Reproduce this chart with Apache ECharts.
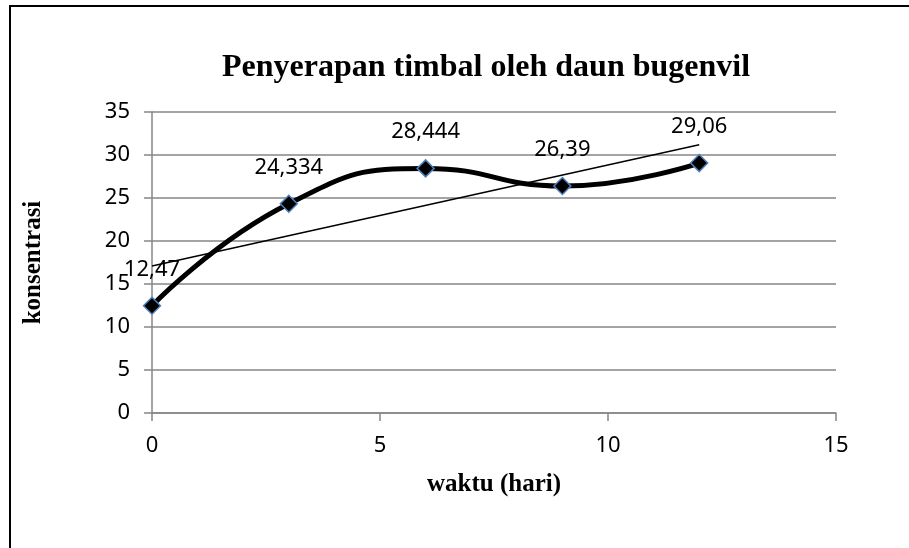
<!DOCTYPE html>
<html>
<head>
<meta charset="utf-8">
<script src="https://cdn.jsdelivr.net/npm/echarts@6/dist/echarts.min.js"></script>
<style>
html,body{margin:0;padding:0;background:#fff;}
#c{width:909px;height:548px;}
</style>
</head>
<body>
<div id="c"></div>
<script>
var xValues = [0, 3, 6, 9, 12];
var yValues = [12.47, 24.334, 28.444, 26.39, 29.06];
var labels = ['12,47', '24,334', '28,444', '26,39', '29,06'];
var trendX = [0, 12];
var trendY = [17.09, 31.19];
var titleText = 'Penyerapan timbal oleh daun bugenvil';
var xName = 'waktu (hari)';
var yName = 'konsentrasi';

var mainData = xValues.map(function (x, i) { return [x, yValues[i]]; });
var trendData = trendX.map(function (x, i) { return [x, trendY[i]]; });

var chart = echarts.init(document.getElementById('c'), null, {renderer: 'canvas'});
var serif = '"Liberation Serif", "DejaVu Serif", serif';
var sans = '"Noto Sans", "Liberation Sans", sans-serif';
chart.setOption({
  animation: false,
  backgroundColor: '#fff',
  graphic: [{
    type: 'rect',
    shape: {x: 10, y: 6, width: 1000, height: 1000},
    style: {fill: 'none', stroke: '#000', lineWidth: 2},
    silent: true
  }],
  title: {
    text: titleText,
    left: 481, top: 47, textAlign: 'center',
    textStyle: {fontFamily: serif, fontWeight: 'bold', fontSize: 32, color: '#000'}
  },
  grid: {left: 152, right: 73, top: 112, bottom: 135, containLabel: false},
  xAxis: {
    type: 'value', min: 0, max: 15, interval: 5,
    name: xName, nameLocation: 'middle', nameGap: 59,
    nameTextStyle: {fontFamily: serif, fontWeight: 'bold', fontSize: 25, color: '#000'},
    axisLine: {show: true, lineStyle: {color: '#868686', width: 1.5}},
    axisTick: {show: true, length: 8, lineStyle: {color: '#868686', width: 1.5}},
    axisLabel: {fontFamily: sans, fontSize: 22, color: '#000', margin: 22},
    splitLine: {show: false}
  },
  yAxis: {
    type: 'value', min: 0, max: 35, interval: 5,
    name: yName, nameLocation: 'middle', nameGap: 106, nameRotate: 90,
    nameTextStyle: {fontFamily: serif, fontWeight: 'bold', fontSize: 25, color: '#000'},
    axisLine: {show: true, lineStyle: {color: '#868686', width: 1.5}},
    axisTick: {show: true, length: 8, lineStyle: {color: '#868686', width: 1.5}},
    axisLabel: {fontFamily: sans, fontSize: 22, color: '#000', margin: 22},
    splitLine: {show: true, lineStyle: {color: '#868686', width: 1.5}}
  },
  series: [{
    type: 'line',
    data: trendData,
    showSymbol: false,
    symbol: 'none',
    lineStyle: {color: '#000', width: 1.5},
    z: 2
  }, {
    type: 'line',
    data: mainData,
    smooth: 0.5,
    symbol: 'diamond',
    symbolSize: 17,
    lineStyle: {color: '#000', width: 5},
    itemStyle: {color: '#000', borderColor: '#4f81bd', borderWidth: 1.5},
    label: {
      show: true, position: 'top', distance: 16,
      fontFamily: sans, fontSize: 22, color: '#000',
      formatter: function (p) { return labels[p.dataIndex]; }
    },
    z: 3
  }]
});
</script>
</body>
</html>
